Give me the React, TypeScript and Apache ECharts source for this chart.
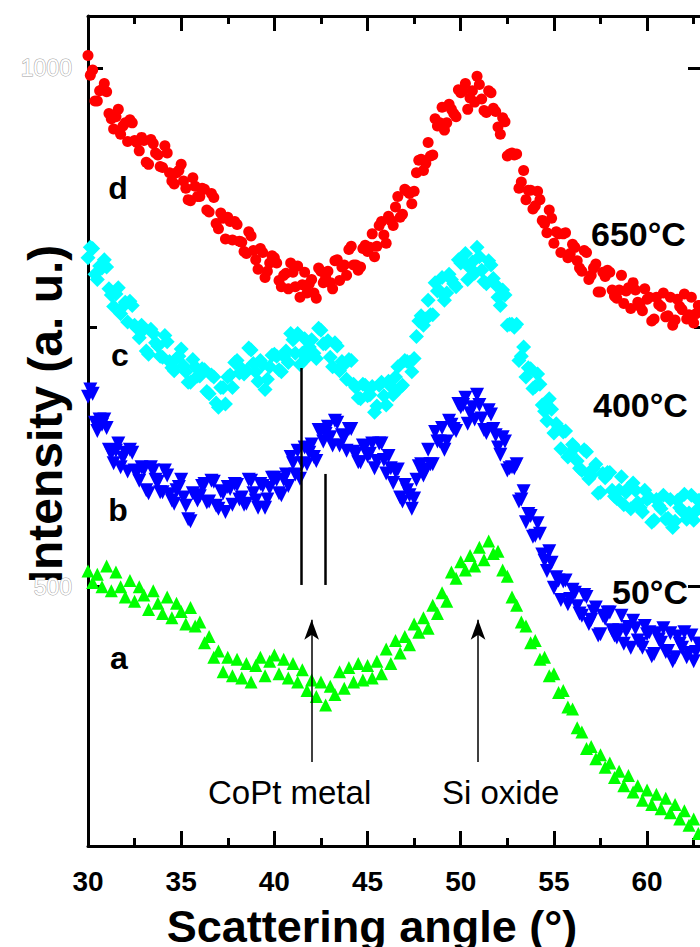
import React, { useEffect, useRef } from "react";
import * as echarts from "echarts";

// Scattering angle sampling positions (degrees)
const angles = [
  30, 30.25, 30.5, 30.75, 31, 31.25, 31.5, 31.75, 32, 32.25, 32.5, 32.75,
  33, 33.25, 33.5, 33.75, 34, 34.25, 34.5, 34.75, 35, 35.25, 35.5, 35.75,
  36, 36.25, 36.5, 36.75, 37, 37.25, 37.5, 37.75, 38, 38.25, 38.5, 38.75,
  39, 39.25, 39.5, 39.75, 40, 40.25, 40.5, 40.75, 41, 41.25, 41.5, 41.75,
  42, 42.25, 42.5, 42.75, 43, 43.25, 43.5, 43.75, 44, 44.25, 44.5, 44.75,
  45, 45.25, 45.5, 45.75, 46, 46.25, 46.5, 46.75, 47, 47.25, 47.5, 47.75,
  48, 48.25, 48.5, 48.75, 49, 49.25, 49.5, 49.75, 50, 50.25, 50.5, 50.75,
  51, 51.25, 51.5, 51.75, 52, 52.25, 52.5, 52.75, 53, 53.25, 53.5, 53.75,
  54, 54.25, 54.5, 54.75, 55, 55.25, 55.5, 55.75, 56, 56.25, 56.5, 56.75,
  57, 57.25, 57.5, 57.75, 58, 58.25, 58.5, 58.75, 59, 59.25, 59.5, 59.75,
  60, 60.25, 60.5, 60.75, 61, 61.25, 61.5, 61.75, 62, 62.25, 62.5, 62.75,
  63,
];

// Intermediate sampling positions (degrees)
const anglesMid = [
  30.125, 30.375, 30.625, 30.875, 31.125, 31.375, 31.625, 31.875,
  32.125, 32.375, 32.625, 32.875, 33.125, 33.375, 33.625, 33.875,
  34.125, 34.375, 34.625, 34.875, 35.125, 35.375, 35.625, 35.875,
  36.125, 36.375, 36.625, 36.875, 37.125, 37.375, 37.625, 37.875,
  38.125, 38.375, 38.625, 38.875, 39.125, 39.375, 39.625, 39.875,
  40.125, 40.375, 40.625, 40.875, 41.125, 41.375, 41.625, 41.875,
  42.125, 42.375, 42.625, 42.875, 43.125, 43.375, 43.625, 43.875,
  44.125, 44.375, 44.625, 44.875, 45.125, 45.375, 45.625, 45.875,
  46.125, 46.375, 46.625, 46.875, 47.125, 47.375, 47.625, 47.875,
  48.125, 48.375, 48.625, 48.875, 49.125, 49.375, 49.625, 49.875,
  50.125, 50.375, 50.625, 50.875, 51.125, 51.375, 51.625, 51.875,
  52.125, 52.375, 52.625, 52.875, 53.125, 53.375, 53.625, 53.875,
  54.125, 54.375, 54.625, 54.875, 55.125, 55.375, 55.625, 55.875,
  56.125, 56.375, 56.625, 56.875, 57.125, 57.375, 57.625, 57.875,
  58.125, 58.375, 58.625, 58.875, 59.125, 59.375, 59.625, 59.875,
  60.125, 60.375, 60.625, 60.875, 61.125, 61.375, 61.625, 61.875,
  62.125, 62.375, 62.625, 62.875,
];

// d: 650°C
const intensity650 = [
  1012, 998, 968, 979, 977, 951, 953, 936, 947, 950, 930, 920,
  930, 907, 927, 916, 904, 918, 891, 899, 907, 884, 872, 886,
  876, 883, 861, 875, 845, 855, 856, 834, 849, 832, 821, 838,
  815, 826, 798, 812, 817, 795, 800, 787, 803, 809, 791, 783,
  796, 778, 804, 798, 793, 814, 795, 810, 825, 810, 805, 826,
  823, 840, 828, 852, 831, 853, 866, 856, 883, 879, 881, 911,
  901, 928, 916, 944, 962, 947, 960, 953, 976, 985, 971, 967,
  984, 959, 978, 961, 943, 952, 915, 918, 917, 890, 873, 882,
  867, 873, 850, 863, 831, 840, 840, 817, 830, 814, 804, 822,
  800, 811, 784, 799, 803, 780, 786, 773, 788, 793, 774, 766,
  777, 756, 779, 770, 760, 779, 757, 770, 782, 762, 754, 771,
  768,
];
const intensity650Mid = [
  993, 968, 978, 985, 956, 941, 960, 944, 929, 947, 928, 933,
  909, 931, 918, 905, 925, 899, 888, 901, 891, 873, 894, 876,
  884, 863, 879, 850, 860, 835, 852, 852, 833, 823, 842, 824,
  806, 822, 804, 819, 812, 789, 802, 812, 789, 779, 803, 792,
  783, 807, 793, 804, 787, 815, 808, 800, 828, 810, 808, 829,
  827, 818, 848, 839, 857, 848, 876, 859, 881, 869, 899, 912,
  908, 915, 951, 947, 940, 965, 956, 979, 978, 960, 978, 992,
  970, 957, 976, 958, 936, 948, 917, 916, 884, 901, 882, 864,
  881, 853, 841, 855, 842, 822, 841, 821, 827, 807, 824, 796,
  807, 784, 803, 805, 786, 778, 800, 785, 768, 786, 770, 787,
  779, 758, 772, 783, 761, 752, 777, 767, 758, 779, 763, 771,
];

// c: 400°C
const intensity400 = [
  817, 826, 796, 807, 808, 781, 782, 763, 774, 775, 752, 740,
  748, 724, 744, 732, 721, 736, 711, 720, 729, 707, 697, 712,
  703, 709, 686, 702, 673, 692, 702, 692, 718, 710, 708, 728,
  707, 718, 690, 712, 724, 709, 722, 716, 738, 744, 725, 721,
  738, 720, 747, 734, 721, 735, 708, 714, 719, 695, 682, 695,
  684, 693, 674, 697, 675, 693, 702, 692, 718, 716, 720, 756,
  752, 776, 762, 785, 798, 783, 796, 789, 812, 821, 807, 802,
  818, 794, 814, 797, 779, 786, 752, 753, 753, 722, 702, 710,
  693, 695, 669, 681, 648, 653, 649, 625, 637, 621, 612, 630,
  607, 618, 591, 605, 610, 587, 593, 579, 595, 600, 581, 572,
  584, 562, 584, 575, 565, 584, 563, 576, 589, 571, 564, 583,
  579,
];
const intensity400Mid = [
  827, 801, 809, 815, 787, 770, 788, 770, 755, 771, 749, 752,
  727, 748, 735, 722, 742, 717, 708, 722, 713, 697, 719, 703,
  710, 688, 704, 677, 692, 676, 704, 716, 706, 705, 730, 715,
  698, 714, 700, 723, 722, 707, 727, 744, 725, 714, 739, 731,
  725, 749, 734, 737, 712, 732, 717, 700, 718, 692, 681, 694,
  685, 668, 694, 684, 698, 685, 712, 694, 717, 707, 741, 761,
  758, 762, 793, 785, 776, 801, 792, 815, 814, 796, 813, 827,
  805, 792, 810, 791, 771, 781, 753, 750, 718, 731, 711, 691,
  705, 675, 660, 671, 657, 633, 650, 628, 634, 614, 632, 604,
  614, 590, 609, 610, 593, 585, 606, 591, 575, 593, 576, 593,
  586, 564, 578, 588, 566, 557, 583, 573, 565, 588, 573, 584,
];

// b: 50°C
const intensity50 = [
  683, 686, 650, 656, 653, 628, 631, 615, 629, 632, 612, 602,
  613, 590, 612, 601, 591, 607, 583, 593, 603, 578, 563, 588,
  587, 599, 582, 601, 575, 590, 596, 579, 598, 586, 580, 602,
  583, 599, 576, 595, 605, 590, 603, 597, 619, 631, 619, 618,
  637, 621, 650, 647, 644, 660, 636, 644, 652, 630, 620, 636,
  626, 638, 621, 638, 609, 614, 611, 586, 598, 588, 585, 616,
  607, 632, 618, 640, 653, 640, 656, 650, 673, 682, 667, 661,
  675, 651, 670, 652, 634, 644, 612, 615, 618, 584, 562, 568,
  549, 551, 525, 534, 499, 506, 505, 483, 497, 481, 472, 490,
  468, 480, 454, 469, 475, 453, 458, 445, 461, 467, 448, 441,
  454, 433, 455, 446, 437, 455, 432, 445, 456, 436, 428, 445,
  439,
];
const intensity50Mid = [
  690, 658, 661, 661, 632, 619, 638, 624, 611, 629, 610, 615,
  593, 615, 603, 591, 612, 589, 580, 596, 586, 565, 590, 583,
  597, 581, 602, 578, 592, 572, 594, 599, 584, 579, 603, 590,
  576, 597, 584, 605, 603, 588, 608, 625, 608, 604, 634, 629,
  625, 651, 640, 654, 636, 658, 646, 631, 652, 628, 620, 635,
  628, 614, 638, 622, 626, 600, 613, 582, 593, 575, 603, 618,
  613, 618, 649, 640, 632, 660, 652, 676, 675, 657, 673, 685,
  662, 648, 666, 646, 627, 640, 614, 614, 582, 592, 570, 548,
  561, 531, 515, 523, 509, 487, 506, 488, 494, 474, 492, 464,
  476, 453, 472, 475, 458, 451, 472, 457, 441, 460, 445, 462,
  456, 435, 449, 460, 438, 428, 452, 441, 432, 453, 437, 445,
];

// a: reference sample
const intensityA = [
  515, 504, 512, 500, 520, 496, 514, 500, 490, 506, 486, 500,
  492, 478, 496, 484, 474, 490, 470, 484, 476, 464, 480, 462,
  466, 446, 452, 432, 438, 418, 432, 414, 430, 412, 426, 408,
  424, 432, 414, 428, 434, 416, 430, 412, 426, 408, 420, 400,
  410, 394, 408, 386, 404, 396, 418, 402, 422, 408, 426, 410,
  424, 412, 428, 416, 440, 426, 448, 436, 452, 444, 464, 456,
  470, 460, 482, 474, 494, 486, 514, 508, 524, 516, 530, 520,
  538, 526, 544, 532, 534, 516, 510, 490, 482, 466, 462, 446,
  448, 430, 432, 414, 416, 398, 400, 384, 382, 364, 360, 344,
  346, 334, 338, 326, 330, 316, 322, 308, 318, 302, 308, 294,
  304, 290, 300, 286, 296, 282, 290, 276, 284, 270, 276, 262,
  262,
];

const xMajorTicks = [30, 35, 40, 45, 50, 55, 60];
const xMinorTicks = [32.5, 37.5, 42.5, 47.5, 52.5, 57.5, 62.5];
const yMajorTicks = [500, 1000];
const yMinorTicks = [750];

// Annotation marker lines: [x, yStart, yEnd]
const peakLines = [
  [41.46, 501.6, 710.7],
  [42.71, 501.6, 608.6],
];
const arrows = [
  [42.0, 331, 468],
  [50.93, 331, 468],
];

const FONT = "'Liberation Sans', Arial, Helvetica, sans-serif";

export default function App() {
  const ref = useRef<HTMLDivElement>(null);

  useEffect(() => {
    if (!ref.current) return;
    const chart = echarts.init(ref.current, undefined, { renderer: "svg" });

    const mk = (xs: number[], vals: number[]) => xs.map((a, i) => [a, vals[i]]);

    const tickStyle = { color: "#000", width: 3 };
    const baseX = {
      type: "value" as const,
      min: 30,
      max: 63,
      splitLine: { show: false },
    };
    const baseY = {
      type: "value" as const,
      min: 250,
      max: 1050,
      splitLine: { show: false },
    };

    const lineData: any[] = peakLines.map(([x, y0, y1]) => [
      { coord: [x, y0] },
      { coord: [x, y1] },
    ]);
    const arrowData: any[] = arrows.map(([x, y0, y1]) => [
      { coord: [x, y0] },
      { coord: [x, y1] },
    ]);

    const seriesDefs = [
      { name: "650°C", symbol: "circle", size: 11, rot: 0, color: "#ff0000", a: intensity650, b: intensity650Mid },
      { name: "400°C", symbol: "diamond", size: 15, rot: 0, color: "#00ffff", a: intensity400, b: intensity400Mid },
      { name: "50°C", symbol: "triangle", size: 14, rot: 180, color: "#0000ff", a: intensity50, b: intensity50Mid },
      { name: "a", symbol: "triangle", size: 13, rot: 0, color: "#00ff00", a: intensityA, b: [] as number[] },
    ];

    const scatterSeries = seriesDefs.map((d) => ({
      name: d.name,
      type: "scatter",
      symbol: d.symbol,
      symbolRotate: d.rot,
      symbolSize: d.size,
      itemStyle: { color: d.color, opacity: 1 },
      data: [...mk(angles, d.a), ...mk(anglesMid, d.b)],
      z: 2,
    }));

    chart.setOption({
      animation: false,
      backgroundColor: "#fff",
      grid: { left: 88, top: 16, width: 615, height: 830 },
      xAxis: [
        {
          ...baseX,
          position: "bottom",
          axisLine: { lineStyle: { color: "#000", width: 3 } },
          axisTick: { inside: true, length: 15, lineStyle: tickStyle, customValues: xMajorTicks },
          axisLabel: {
            customValues: xMajorTicks,
            margin: 21,
            color: "#000",
            fontSize: 28,
            fontWeight: "bold",
            fontFamily: FONT,
          },
        },
        {
          ...baseX,
          position: "bottom",
          axisLine: { show: false },
          axisTick: { inside: true, length: 8, lineStyle: tickStyle, customValues: xMinorTicks },
          axisLabel: { show: false },
        },
        {
          ...baseX,
          position: "top",
          axisLine: { lineStyle: { color: "#000", width: 3 } },
          axisTick: { inside: true, length: 15, lineStyle: tickStyle, customValues: xMajorTicks },
          axisLabel: { show: false },
        },
        {
          ...baseX,
          position: "top",
          axisLine: { show: false },
          axisTick: { inside: true, length: 8, lineStyle: tickStyle, customValues: xMinorTicks },
          axisLabel: { show: false },
        },
      ],
      yAxis: [
        {
          ...baseY,
          position: "left",
          axisLine: { lineStyle: { color: "#000", width: 3 } },
          axisTick: { inside: true, length: 15, lineStyle: tickStyle, customValues: yMajorTicks },
          axisLabel: {
            customValues: yMajorTicks,
            formatter: (v: number) => String(v),
            margin: 16,
            color: "#fff",
            textBorderColor: "#a0a0a0",
            textBorderWidth: 1,
            fontSize: 23,
            fontFamily: FONT,
          },
        },
        {
          ...baseY,
          position: "left",
          axisLine: { show: false },
          axisTick: { inside: true, length: 9, lineStyle: tickStyle, customValues: yMinorTicks },
          axisLabel: { show: false },
        },
        {
          ...baseY,
          position: "right",
          axisLine: { lineStyle: { color: "#000", width: 3 } },
          axisTick: { inside: true, length: 15, lineStyle: tickStyle, customValues: yMajorTicks },
          axisLabel: { show: false },
        },
        {
          ...baseY,
          position: "right",
          axisLine: { show: false },
          axisTick: { inside: true, length: 9, lineStyle: tickStyle, customValues: yMinorTicks },
          axisLabel: { show: false },
        },
      ],
      series: [
        ...scatterSeries,
        {
          name: "peaks",
          type: "scatter",
          data: [],
          z: 5,
          markLine: {
            silent: true,
            animation: false,
            symbol: "none",
            label: { show: false },
            lineStyle: { color: "#000", width: 2.5, type: "solid" },
            data: lineData,
          },
        },
        {
          name: "arrows",
          type: "scatter",
          data: [],
          z: 5,
          markLine: {
            silent: true,
            animation: false,
            symbol: ["none", "arrow"],
            symbolSize: [11, 20],
            label: { show: false },
            lineStyle: { color: "#000", width: 1.5, type: "solid" },
            data: arrowData,
          },
        },
      ],
      graphic: [
        {
          type: "text",
          x: 45,
          y: 414,
          rotation: Math.PI / 2,
          style: {
            text: "Intensity (a. u.)",
            fill: "#000",
            font: `bold 48px ${FONT}`,
            align: "center",
            verticalAlign: "middle",
          },
        },
        {
          type: "text",
          x: 372,
          y: 926,
          style: {
            text: "Scattering angle (°)",
            fill: "#000",
            font: `bold 45px ${FONT}`,
            align: "center",
            verticalAlign: "middle",
          },
        },
        ...[
          ["d", 118, 188],
          ["c", 120, 355],
          ["b", 118, 510],
          ["a", 119, 658],
        ].map(([t, x, y]) => ({
          type: "text",
          x,
          y,
          style: {
            text: t,
            fill: "#000",
            font: `bold 32px ${FONT}`,
            align: "center",
            verticalAlign: "middle",
          },
        })),
        ...[
          ["650°C", 591, 234],
          ["400°C", 593, 405],
          ["50°C", 612, 592],
        ].map(([t, x, y]) => ({
          type: "text",
          x,
          y,
          style: {
            text: t,
            fill: "#000",
            font: `bold 34px ${FONT}`,
            align: "left",
            verticalAlign: "middle",
          },
        })),
        ...[
          ["CoPt metal", 208, 792],
          ["Si oxide", 442, 792],
        ].map(([t, x, y]) => ({
          type: "text",
          x,
          y,
          style: {
            text: t,
            fill: "#000",
            font: `33px ${FONT}`,
            align: "left",
            verticalAlign: "middle",
          },
        })),
      ],
    });

    return () => chart.dispose();
  }, []);

  return (
    <div
      style={{
        position: "fixed",
        left: 0,
        top: 0,
        width: 700,
        height: 947,
        overflow: "hidden",
        background: "#fff",
      }}
    >
      <div ref={ref} style={{ width: 720, height: 947 }} />
    </div>
  );
}
